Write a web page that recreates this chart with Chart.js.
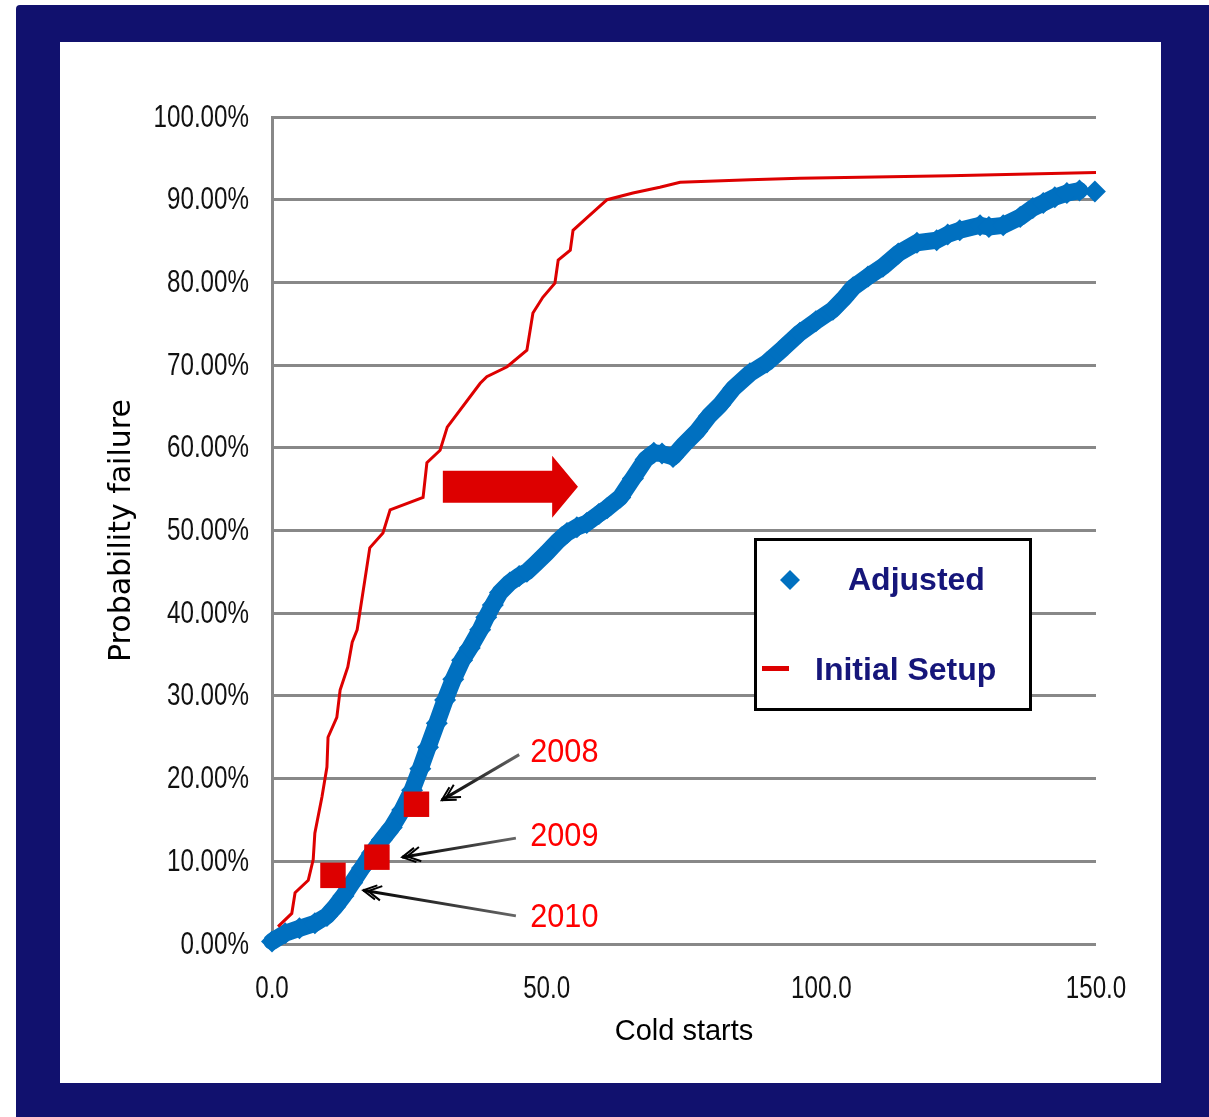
<!DOCTYPE html>
<html>
<head>
<meta charset="utf-8">
<title>Probability failure vs cold starts</title>
<script src="https://cdn.jsdelivr.net/npm/chart.js@4.4.1/dist/chart.umd.min.js"></script>
<style>
  html, body { margin: 0; padding: 0; background: #fff; }
  #frame { position: absolute; left: 16px; top: 5px; width: 1193px; height: 1112px; background: #11116e; border-top-left-radius: 4px; }
  #panel { position: absolute; left: 60px; top: 42px; width: 1101px; height: 1041px; background: #fff; }
  #wrap { position: absolute; left: 0; top: 0; width: 1209px; height: 1117px; }
</style>
</head>
<body>
<div id="frame"></div>
<div id="panel"></div>
<div id="wrap"><canvas id="chart" width="1209" height="1117"></canvas></div>
<script>
// values (cold starts, % failure)
const adjustedX = [0, 2.4, 5, 7.8, 10, 11.5, 13, 14.6, 16.4, 18.2, 20, 21.8, 23.7, 25.5, 27, 28.4, 30, 31.5, 33, 34.6,
    36, 37.9, 39, 40.2, 41.5, 43.3, 45, 46.4, 48, 50, 52, 53.7, 55.5, 57.3, 59.5, 61, 63.4, 65.7, 68, 69.5,
    71, 73, 75, 77.4, 79.5, 81.6, 84, 87, 90.1, 93, 96.1, 99, 102.1, 104, 105.8, 108.5, 111.2, 114, 117.4, 121,
    123, 125.2, 128.9, 130.5, 133.1, 136.2, 138.5, 140.4, 142.5, 144.7, 147, 149.8];
const adjustedY = [0.3, 1.3, 1.9, 2.5, 3.4, 4.5, 5.8, 7.4, 9.2, 11, 12.6, 14.1, 16.2, 18.6, 21.2, 23.8, 26.7, 29.5, 32, 34.3,
    35.8, 38, 39.5, 41, 42.5, 43.7, 44.5, 45, 46, 47.3, 48.7, 49.7, 50.4, 50.9, 52, 52.7, 54, 56.3, 58.6, 59.4,
    59.3, 58.9, 60.4, 62, 63.8, 65.2, 67.2, 69, 70.3, 72, 73.9, 75.3, 76.7, 78, 79.4, 80.7, 81.9, 83.5, 84.8, 85.1,
    85.8, 86.3, 86.9, 86.7, 86.9, 87.9, 89, 89.6, 90.3, 90.8, 91.1, 91];

const initialX = [1.1, 3.6, 4.2, 6.6, 7.5, 7.8, 9.1, 10, 10.2, 11.8, 12.4, 13.8, 14.6, 15.5, 16.9, 17.8, 20.2, 21.5, 27.5, 28.2,
    30.6, 31.9, 37.9, 39.1, 42.8, 46.4, 47.5, 49.3, 51.5, 52.1, 54.3, 54.8, 57.3, 61, 65.7, 70.6, 74.3, 87, 96.1, 123.4, 150];
const initialY = [2.1, 3.7, 6.2, 7.7, 10.2, 13.4, 17.8, 21.4, 25, 27.4, 30.7, 33.5, 36.5, 38, 44, 47.9, 49.7, 52.5, 54, 58.2,
    59.7, 62.5, 67.8, 68.6, 69.8, 71.8, 76.3, 78.2, 79.9, 82.7, 83.9, 86.3, 87.8, 90, 90.8, 91.5, 92.1, 92.4, 92.6, 92.9, 93.3];

const markerYears = ["2008", "2009", "2010"];
const markerX = [26.3, 19.1, 11.1];
const markerY = [16.9, 10.5, 8.3];

const xTicks = [0, 50, 100, 150];

function toPoints(xs, ys) {
    return xs.map(function (x, i) { return { x: x, y: ys[i] }; });
}

function xLabel(v) { return Number(v).toFixed(1); }
function yLabel(v) { return Number(v).toFixed(2) + "%"; }

const navy = "#16167a";
const blue = "#0070c0";
const red = "#dd0000";
const sans = "'Liberation Sans', Arial, sans-serif";

// callout arrows: label position and arrow tail/tip, in data units
const callouts = [
    { label: markerYears[0], lx: 47.0, ly: 23.1, tail: [45.0, 22.9], tip: [30.9, 17.4] },
    { label: markerYears[1], lx: 47.0, ly: 12.9, tail: [44.4, 12.8], tip: [23.7, 10.5] },
    { label: markerYears[2], lx: 47.0, ly: 3.1, tail: [44.4, 3.4], tip: [16.6, 6.5] }
];

// the source uses a narrow face, so labels are squeezed horizontally
function squeezedText(ctx, text, x, y, align, sx) {
    ctx.save();
    ctx.translate(x, y);
    ctx.scale(sx, 1);
    ctx.textAlign = align;
    ctx.textBaseline = "middle";
    ctx.fillText(text, 0, 0);
    ctx.restore();
}

function drawArrow(ctx, x1, y1, x2, y2) {
    const grad = ctx.createLinearGradient(x1, y1, x2, y2);
    grad.addColorStop(0, "#666");
    grad.addColorStop(1, "#000");
    ctx.strokeStyle = grad;
    ctx.lineWidth = 3;
    ctx.beginPath();
    ctx.moveTo(x1, y1);
    ctx.lineTo(x2, y2);
    ctx.stroke();
    const ang = Math.atan2(y1 - y2, x1 - x2);
    ctx.strokeStyle = "#000";
    ctx.lineWidth = 2;
    for (let k = 0; k < 2; k++) {
        const bx = x2 + Math.cos(ang) * k * 5;
        const by = y2 + Math.sin(ang) * k * 5;
        ctx.beginPath();
        ctx.moveTo(bx + Math.cos(ang + 0.5) * 15, by + Math.sin(ang + 0.5) * 15);
        ctx.lineTo(bx, by);
        ctx.lineTo(bx + Math.cos(ang - 0.5) * 15, by + Math.sin(ang - 0.5) * 15);
        ctx.stroke();
    }
}

const extrasPlugin = {
    id: "extras",
    afterDatasetsDraw(chart) {
        const ctx = chart.ctx;
        const xs = chart.scales.x;
        const ys = chart.scales.y;
        ctx.save();

        // tick labels
        ctx.fillStyle = "#111";
        ctx.font = "31px " + sans;
        ys.ticks.forEach(function (t) {
            squeezedText(ctx, yLabel(t.value), 249, ys.getPixelForValue(t.value) + 1, "right", 0.78);
        });
        xs.ticks.forEach(function (t) {
            squeezedText(ctx, xLabel(t.value), xs.getPixelForValue(t.value), ys.bottom + 45, "center", 0.78);
        });

        // big red arrow
        const ax0 = xs.getPixelForValue(31.1);
        const ax1 = xs.getPixelForValue(51.0);
        const ax2 = xs.getPixelForValue(55.7);
        const ay = ys.getPixelForValue(55.3);
        ctx.fillStyle = red;
        ctx.beginPath();
        ctx.moveTo(ax0, ay - 16);
        ctx.lineTo(ax1, ay - 16);
        ctx.lineTo(ax1, ay - 31);
        ctx.lineTo(ax2, ay);
        ctx.lineTo(ax1, ay + 31);
        ctx.lineTo(ax1, ay + 16);
        ctx.lineTo(ax0, ay + 16);
        ctx.closePath();
        ctx.fill();

        // callouts
        callouts.forEach(function (c) {
            drawArrow(ctx, xs.getPixelForValue(c.tail[0]), ys.getPixelForValue(c.tail[1]),
                xs.getPixelForValue(c.tip[0]), ys.getPixelForValue(c.tip[1]));
            ctx.fillStyle = "#ff0000";
            ctx.font = "33px " + sans;
            squeezedText(ctx, c.label, xs.getPixelForValue(c.lx), ys.getPixelForValue(c.ly), "left", 0.93);
        });

        // legend box
        ctx.fillStyle = "#fff";
        ctx.fillRect(755, 539, 276, 171);
        ctx.strokeStyle = "#000";
        ctx.lineWidth = 3;
        ctx.strokeRect(755.5, 539.5, 275, 170);
        ctx.fillStyle = blue;
        ctx.beginPath();
        ctx.moveTo(790, 570);
        ctx.lineTo(800, 580);
        ctx.lineTo(790, 590);
        ctx.lineTo(780, 580);
        ctx.closePath();
        ctx.fill();
        ctx.fillStyle = red;
        ctx.fillRect(762, 666, 27, 5);
        ctx.fillStyle = navy;
        ctx.font = "bold 32px " + sans;
        ctx.textAlign = "left";
        ctx.textBaseline = "alphabetic";
        ctx.fillText(chart.data.datasets[2].label, 848, 590);
        ctx.fillText(chart.data.datasets[1].label, 815, 680);
        ctx.restore();
    }
};

document.addEventListener("DOMContentLoaded", function () {
    const ctx = document.getElementById("chart");
    const lastSeg = adjustedX.length - 2;

    new Chart(ctx, {
        type: "scatter",
        data: {
            datasets: [
                {
                    label: "Markers",
                    data: toPoints(markerX, markerY),
                    pointStyle: "rect",
                    pointRadius: 18,
                    backgroundColor: red,
                    borderColor: red,
                    borderWidth: 0,
                    clip: false
                },
                {
                    label: "Initial Setup",
                    data: toPoints(initialX, initialY),
                    showLine: true,
                    borderColor: red,
                    borderWidth: 3,
                    pointRadius: 0,
                    clip: false
                },
                {
                    label: "Adjusted",
                    data: toPoints(adjustedX, adjustedY),
                    showLine: true,
                    borderColor: blue,
                    backgroundColor: blue,
                    borderWidth: 17,
                    borderJoinStyle: "round",
                    borderCapStyle: "round",
                    pointStyle: "rectRot",
                    pointRadius: 11,
                    pointBorderWidth: 0,
                    clip: false,
                    segment: {
                        borderColor: function (c) { return c.p0DataIndex === lastSeg ? "rgba(0,0,0,0)" : undefined; }
                    }
                }
            ]
        },
        plugins: [extrasPlugin],
        options: {
            responsive: false,
            animation: false,
            events: [],
            layout: { padding: { left: 0, top: 117, right: 113, bottom: 0 } },
            plugins: {
                legend: { display: false },
                tooltip: { enabled: false }
            },
            scales: {
                x: {
                    type: "linear",
                    min: 0,
                    max: 150,
                    afterBuildTicks: function (scale) {
                        scale.ticks = xTicks.map(function (v) { return { value: v }; });
                    },
                    afterFit: function (scale) { scale.height = 173; },
                    grid: { display: false, drawTicks: false },
                    border: { display: false },
                    ticks: { display: false, callback: xLabel },
                    title: {
                        display: true,
                        text: "Cold starts",
                        color: "#000",
                        font: { family: sans, size: 29 },
                        padding: { top: 0, bottom: 68 }
                    }
                },
                y: {
                    type: "linear",
                    min: 0,
                    max: 100,
                    afterFit: function (scale) { scale.width = 272; },
                    grid: { color: "#888", lineWidth: 3, drawTicks: false },
                    border: { display: true, color: "#888", width: 3 },
                    ticks: { display: false, stepSize: 10, callback: yLabel },
                    title: {
                        display: true,
                        text: "Probability failure",
                        color: "#000",
                        font: { family: "'DejaVu Sans', sans-serif", size: 30 },
                        padding: { top: 104, bottom: 0 }
                    }
                }
            }
        }
    });
});
</script>
</body>
</html>
